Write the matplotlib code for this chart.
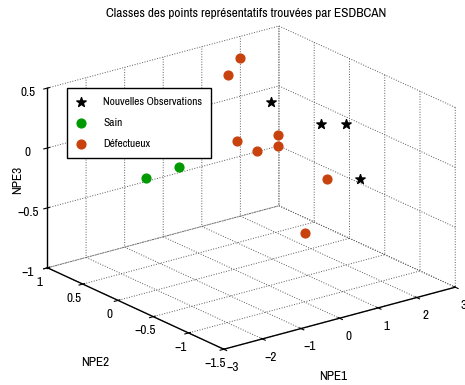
import matplotlib
matplotlib.use("Agg")
import matplotlib.pyplot as plt

# NPE coordinates of the representative points
obs_x = [1.44, 2.12, 2.53, 2.08]
obs_y = [0.26, -0.08, -0.21, -0.65]
obs_z = [0.20, 0.05, 0.05, -0.25]

sain_x = [-1.70, -0.78]
sain_y = [0.31, 0.35]
sain_z = [-0.175, -0.175]

def_x = [1.54, 1.07, 0.70, 0.63, 0.14, 0.43, 1.22, 0.54]
def_y = [0.76, 0.66, -0.24, -0.28, 0.03, -0.09, -0.65, -0.71]
def_z = [0.425, 0.35, 0.125, 0.05, 0.05, -0.025, -0.175, -0.55]

x_ticks = [-3, -2, -1, 0, 1, 2, 3]
y_ticks = [-1.5, -1, -0.5, 0, 0.5, 1]
z_ticks = [-1, -0.5, 0, 0.5]

# narrow sans like the matlab rendering, falls back to liberation
plt.rcParams['font.family'] = ['Archivo Narrow', 'Liberation Sans', 'DejaVu Sans']
plt.rcParams['grid.color'] = '0.35'
plt.rcParams['grid.linestyle'] = ':'
plt.rcParams['grid.linewidth'] = 0.7

fig = plt.figure(figsize=(4.65, 3.85), dpi=100)
ax = fig.add_axes([0.0538, -0.0753, 0.948, 1.145], projection='3d', proj_type='ortho')
ax.view_init(elev=20.6, azim=-127.3)
ax.set_box_aspect((1, 1, 0.66))

ax.scatter(obs_x, obs_y, obs_z, marker='*', s=50, c='k', depthshade=False,
           label='Nouvelles Observations')
ax.scatter(sain_x, sain_y, sain_z, marker='o', s=40, c='#009a00', depthshade=False,
           label='Sain')
ax.scatter(def_x, def_y, def_z, marker='o', s=40, c='#c8420e', depthshade=False,
           label='Défectueux')

ax.set_xlim(-3, 3)
ax.set_ylim(-1.5, 1)
ax.set_zlim(-1, 0.5)
ax.set_xticks(x_ticks)
ax.set_yticks(y_ticks)
ax.set_zticks(z_ticks)
ax.set_xticklabels(['\u22123', '\u22122', '\u22121', '0', '1', '2', '3'])
ax.set_yticklabels(['\u22121.5', '\u22121', '\u22120.5', '0', '0.5', '1'])
ax.set_zticklabels(['\u22121', '\u22120.5', '0', '0.5'])
ax.tick_params(labelsize=9.5, pad=0)
ax.tick_params(axis='y', pad=-2)

for axis in [ax.xaxis, ax.yaxis, ax.zaxis]:
    axis.set_pane_color((1, 1, 1, 0))
    axis.pane.set_edgecolor('none')
    axis.line.set_color('k')
    axis.line.set_linewidth(1.0)

# axis titles placed like the original figure
fig.text(333 / 465, 1 - 377 / 385, 'NPE1', ha='center', va='center', fontsize=9.5)
fig.text(95 / 465, 1 - 362 / 385, 'NPE2', ha='center', va='center', fontsize=9.5)
fig.text(18 / 465, 1 - 180 / 385, 'NPE3', ha='center', va='center', fontsize=9.5,
         rotation=90)

fig.text(0.529, 0.964, 'Classes des points représentatifs trouvées par ESDBCAN',
         ha='center', va='center', fontsize=9.6)

leg = ax.legend(loc='upper left', bbox_to_anchor=(67 / 465, 1 - 88 / 385),
                bbox_transform=fig.transFigure, fancybox=False, framealpha=1,
                edgecolor='k', fontsize=8.2, handlelength=1.0, handletextpad=1.45,
                labelspacing=1.0, borderpad=0.75, borderaxespad=0)
leg.get_frame().set_linewidth(1.0)

plt.savefig("out.png", dpi=100)
